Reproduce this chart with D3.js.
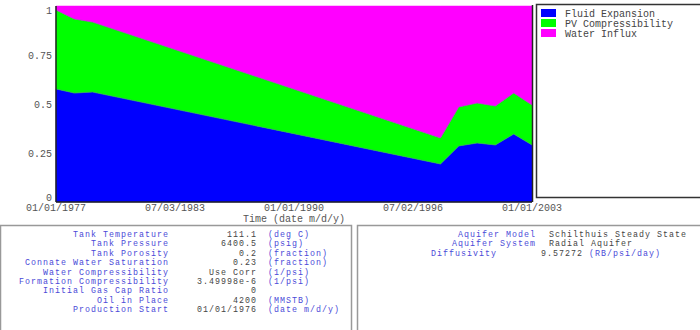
<!DOCTYPE html>
<html><head><meta charset="utf-8">
<script src="https://cdn.jsdelivr.net/npm/d3@7"></script>
<style>body{margin:0;background:#fff;}svg{display:block;font-family:"Liberation Mono","DejaVu Sans Mono",monospace;}</style>
</head><body><svg id="c" width="700" height="330"></svg>
<script>
const dates = ["1977-01-01","1978-01-01","1979-01-01","1998-01-01","1999-01-01","2000-01-01","2001-01-01","2002-01-01","2003-01-01"];
const fluidExpansion   = [0.577,0.556,0.561,0.194,0.286,0.301,0.291,0.347,0.291];
const pvCompressibility= [0.403,0.378,0.357,0.133,0.199,0.204,0.199,0.209,0.204];
const waterInflux      = [0.020,0.066,0.082,0.673,0.515,0.495,0.510,0.444,0.505];
const seriesNames = ["Fluid Expansion","PV Compressibility","Water Influx"];
const seriesColors = ["#0000ff","#00ff00","#ff00ff"];
const xTickDates = ["1977-01-01","1983-07-03","1990-01-01","1996-07-02","2003-01-01"];
const xTickLabels = ["01/01/1977","07/03/1983","01/01/1990","07/02/1996","01/01/2003"];
const yTicks = [0,0.25,0.5,0.75,1];
const yTickLabels = ["0","0.25","0.5","0.75","1"];
const leftLabels = ["Tank Temperature","Tank Pressure","Tank Porosity","Connate Water Saturation","Water Compressibility","Formation Compressibility","Initial Gas Cap Ratio","Oil in Place","Production Start"];
const leftValues = ["111.1","6400.5","0.2","0.23","Use Corr","3.49998e-6","0","4200","01/01/1976"];
const leftUnits = ["(deg C)","(psig)","(fraction)","(fraction)","(1/psi)","(1/psi)","","(MMSTB)","(date m/d/y)"];
const rightLabels = ["Aquifer Model","Aquifer System","Diffusivity"];
const rightValues = ["Schilthuis Steady State","Radial Aquifer","9.57272"];
const rightUnits = ["","","(RB/psi/day)"];

const parse = d3.utcParse("%Y-%m-%d");
const rows = dates.map((d,i)=>({date:parse(d),"Fluid Expansion":fluidExpansion[i],"PV Compressibility":pvCompressibility[i],"Water Influx":waterInflux[i]}));
const svg = d3.select("#c");
const x = d3.scaleUtc().domain([parse("1977-01-01"),parse("2003-01-01")]).range([56,532]);
const y = d3.scaleLinear().domain([0,1]).range([202,6]);
const stack = d3.stack().keys(seriesNames);
const layers = stack(rows);
const area = d3.area().x(d=>x(d.data.date)).y0(d=>y(d[0])).y1(d=>y(d[1]));
svg.append("g").selectAll("path").data(layers).join("path")
  .attr("d",area).attr("fill",(d,i)=>seriesColors[i])
  .attr("stroke",(d,i)=>seriesColors[i]).attr("stroke-width",0.5);
const line = d3.line().x(d=>x(d.data.date)).y(d=>y(d[1]));
svg.append("g").selectAll("path").data(layers.slice(0,2)).join("path")
  .attr("d",line).attr("fill","none").attr("stroke","#6a6a9a").attr("stroke-width",0.6).attr("stroke-opacity",0.6);

svg.append("line").attr("x1",56).attr("x2",56).attr("y1",6).attr("y2",202).attr("stroke","#222").attr("stroke-width",1.5);
svg.append("line").attr("x1",56).attr("x2",532).attr("y1",202).attr("y2",202).attr("stroke","#222").attr("stroke-width",1.5);
svg.append("line").attr("x1",532.5).attr("x2",532.5).attr("y1",5).attr("y2",202).attr("stroke","#222").attr("stroke-width",1.5);

const txtColor = "#555";
svg.append("g").selectAll("text").data(xTickDates).join("text")
  .attr("x",d=>x(parse(d))).attr("y",211).attr("text-anchor","middle")
  .attr("font-size",10).attr("fill",txtColor).text((d,i)=>xTickLabels[i]);
svg.append("text").attr("x",294).attr("y",222).attr("text-anchor","middle").attr("font-size",10).attr("fill",txtColor).text("Time (date m/d/y)");
svg.append("g").selectAll("text").data(yTicks).join("text")
  .attr("x",52).attr("y",d=>Math.max(14,Math.min(201,y(d)+3.5))).attr("text-anchor","end")
  .attr("font-size",10).attr("fill",txtColor).text((d,i)=>yTickLabels[i]);

svg.append("rect").attr("x",536.5).attr("y",4.5).attr("width",170).attr("height",193).attr("fill","#fff").attr("stroke","#333").attr("stroke-width",1.5);
const lg = svg.append("g").selectAll("g").data(seriesNames).join("g").attr("transform",(d,i)=>`translate(541,${9+i*10})`);
lg.append("rect").attr("width",15).attr("height",8).attr("fill",(d,i)=>seriesColors[i]);
lg.append("text").attr("x",24).attr("y",7.5).attr("font-size",10).attr("fill","#444").text(d=>d);

svg.append("rect").attr("x",0.5).attr("y",225.5).attr("width",351).attr("height",110).attr("fill","none").attr("stroke","#999").attr("stroke-width",1.5);
svg.append("rect").attr("x",357.5).attr("y",225.5).attr("width",350).attr("height",110).attr("fill","none").attr("stroke","#999").attr("stroke-width",1.5);
const labColor = "#4a4ad8";
const fs = 8.3, ls = 1.02;
const lp = svg.append("g").attr("font-size",fs).attr("letter-spacing",ls);
function t(xx,yy,s,anchor,col){
  // compensate trailing letter-spacing for end-anchored text
  lp.append("text").attr("x",anchor==="end"?xx+ls:xx).attr("y",yy).attr("text-anchor",anchor).attr("fill",col).text(s);
}
leftLabels.forEach((l,i)=>{
  const yy = 237 + i*9.4;
  t(168,yy,l,"end",labColor);
  t(256,yy,leftValues[i],"end","#444");
  if(leftUnits[i]) t(268,yy,leftUnits[i],"start",labColor);
});
rightLabels.forEach((l,i)=>{
  const yy = 237 + i*9.4;
  if(i<2) t(535,yy,l,"end",labColor); else t(431,yy,l,"start",labColor);
  t(i<2?549:541,yy,rightValues[i],"start","#444");
  if(rightUnits[i]) t(589,yy,rightUnits[i],"start",labColor);
});
</script></body></html>
